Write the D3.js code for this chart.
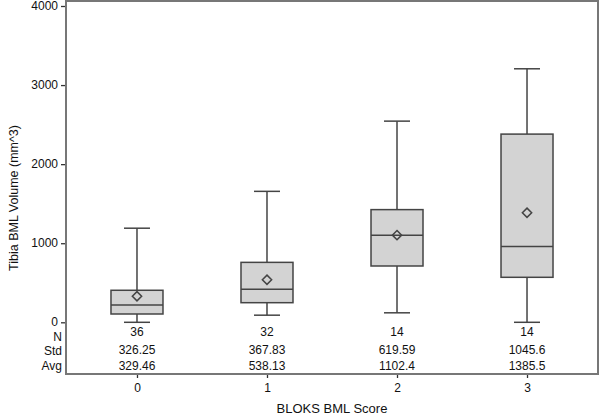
<!DOCTYPE html>
<html><head><meta charset="utf-8">
<script src="https://cdn.jsdelivr.net/npm/d3@7"></script>
<style>body{margin:0;background:#fff}text{font-family:"Liberation Sans",Arial,sans-serif;fill:#111}</style>
</head><body><svg id="c" width="600" height="416"></svg>
<script>
const categories = ["0","1","2","3"];
const whiskerLow = [0, 90, 120, 0];
const q1 = [105, 248, 712, 569];
const median = [220, 419, 1100, 958];
const q3 = [405, 758, 1425, 2380];
const whiskerHigh = [1190, 1656, 2544, 3206];
const nValues = ["36","32","14","14"];
const stdValues = ["326.25","367.83","619.59","1045.6"];
const avgValues = [329.46, 538.13, 1102.4, 1385.5];
const avgLabels = ["329.46","538.13","1102.4","1385.5"];
const yTicks = [0,1000,2000,3000,4000];

const svg = d3.select("#c");
const L=66, R=598, T=1, B=374;
const x = d3.scalePoint().domain(categories).range([L,R]).padding(0.546);
const y = d3.scaleLinear().domain([0,4000]).range([322.3,6]);
const boxW = 52, capW = 26;
const data = categories.map((c,i)=>({c,lo:whiskerLow[i],q1:q1[i],med:median[i],q3:q3[i],hi:whiskerHigh[i],mean:avgValues[i]}));

// y axis
const ya = svg.append("g").attr("transform",`translate(${L},0)`).call(d3.axisLeft(y).tickValues(yTicks).tickSize(5).tickPadding(3).tickFormat(d3.format("d")));
ya.select(".domain").remove();
ya.selectAll("line").attr("stroke","#333").attr("stroke-width",1.3);
ya.selectAll("text").attr("font-size",12).attr("fill","#111").attr("dy","0.3em").style("font-family","Liberation Sans, Arial");

// x axis
const xa = svg.append("g").attr("transform",`translate(0,${B})`).call(d3.axisBottom(x).tickSize(4).tickPadding(5));
xa.select(".domain").remove();
xa.selectAll("line").attr("stroke","#333").attr("stroke-width",1.3);
xa.selectAll("text").attr("font-size",12).attr("fill","#111").style("font-family","Liberation Sans, Arial");

const g = svg.append("g");
const col="#444";
data.forEach(d=>{
  const cx=x(d.c);
  g.append("line").attr("x1",cx).attr("x2",cx).attr("y1",y(d.hi)).attr("y2",y(d.q3)).attr("stroke",col).attr("stroke-width",1.5);
  g.append("line").attr("x1",cx).attr("x2",cx).attr("y1",y(d.q1)).attr("y2",y(d.lo)).attr("stroke",col).attr("stroke-width",1.5);
  g.append("line").attr("x1",cx-capW/2).attr("x2",cx+capW/2).attr("y1",y(d.hi)).attr("y2",y(d.hi)).attr("stroke",col).attr("stroke-width",1.5);
  g.append("line").attr("x1",cx-capW/2).attr("x2",cx+capW/2).attr("y1",y(d.lo)).attr("y2",y(d.lo)).attr("stroke",col).attr("stroke-width",1.5);
  g.append("rect").attr("x",cx-boxW/2).attr("width",boxW).attr("y",y(d.q3)).attr("height",y(d.q1)-y(d.q3)).attr("fill","#d3d3d3").attr("stroke",col).attr("stroke-width",1.5);
  g.append("line").attr("x1",cx-boxW/2).attr("x2",cx+boxW/2).attr("y1",y(d.med)).attr("y2",y(d.med)).attr("stroke",col).attr("stroke-width",1.5);
  g.append("path").attr("d",d3.symbol(d3.symbolDiamond2,55)()).attr("transform",`translate(${cx},${y(d.mean)})`).attr("fill","none").attr("stroke",col).attr("stroke-width",1.5);
});

// table rows
const rows=[["N",nValues,332,337],["Std",stdValues,350,351],["Avg",avgLabels,366,366]];
rows.forEach(([lab,vals,yy,ly])=>{
  svg.append("text").attr("x",62).attr("y",ly).attr("text-anchor","end").attr("dominant-baseline","central").attr("font-size",12).text(lab);
  vals.forEach((v,i)=>svg.append("text").attr("x",x(categories[i])).attr("y",yy).attr("text-anchor","middle").attr("dominant-baseline","central").attr("font-size",12).text(v));
});

// frame
svg.append("rect").attr("x",L).attr("y",T).attr("width",R-L).attr("height",B-T).attr("fill","none").attr("stroke","#777").attr("stroke-width",2);

// titles
svg.append("text").attr("x",(L+R)/2).attr("y",408).attr("text-anchor","middle").attr("dominant-baseline","central").attr("font-size",13).text("BLOKS BML Score");
svg.append("text").attr("transform","translate(14,198) rotate(-90)").attr("text-anchor","middle").attr("dominant-baseline","central").attr("font-size",12.5).text("Tibia BML Volume (mm^3)");
</script></body></html>
